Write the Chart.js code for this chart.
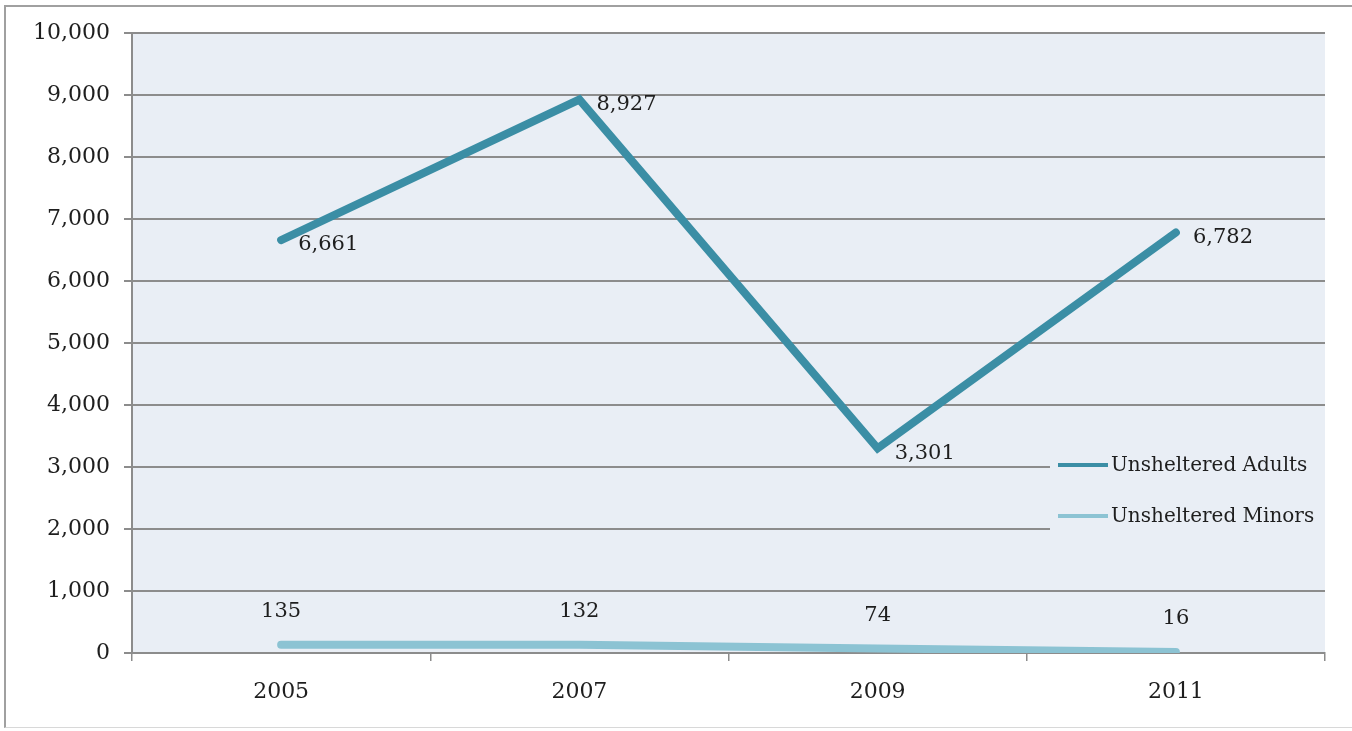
<!DOCTYPE html>
<html>
<head>
<meta charset="utf-8">
<script src="https://cdn.jsdelivr.net/npm/chart.js@4/dist/chart.umd.min.js"></script>
<style>
  html, body { margin: 0; padding: 0; background: #fff; }
  #wrap { position: relative; width: 1352px; height: 731px; }
  #frame { position: absolute; left: 4px; top: 5px; width: 1352px; height: 723px; border-left: 2px solid #a0a0a0; border-top: 2px solid #a0a0a0; border-bottom: 1px solid #d8d8d8; box-sizing: border-box; pointer-events: none; }
</style>
</head>
<body>
<div id="wrap">
  <canvas id="myChart" width="1352" height="731"></canvas>
  <div id="frame"></div>
</div>
<script>
// chart values
const years = ['2005', '2007', '2009', '2011'];
const adults = [6661, 8927, 3301, 6782];
const minors = [135, 132, 74, 16];
const seriesNames = ['Unsheltered Adults', 'Unsheltered Minors'];
const yTicks = [0, 1000, 2000, 3000, 4000, 5000, 6000, 7000, 8000, 9000, 10000];

const serif = '"DejaVu Serif", "Liberation Serif", serif';
const plotBg = '#e9eef5';
const textCol = '#1e1e1e';

// fill the plot area
const plotBackground = {
    id: 'plotBackground',
    beforeDraw(chart) {
        const a = chart.chartArea;
        const c = chart.ctx;
        c.save();
        c.fillStyle = plotBg;
        c.fillRect(a.left, a.top, a.right - a.left, a.bottom - a.top);
        c.restore();
    }
};

// value labels next to each point
const valueLabels = {
    id: 'valueLabels',
    afterDatasetsDraw(chart) {
        const c = chart.ctx;
        c.save();
        c.font = '21px ' + serif;
        c.fillStyle = textCol;
        c.textBaseline = 'middle';
        chart.data.datasets.forEach((ds, i) => {
            const meta = chart.getDatasetMeta(i);
            meta.data.forEach((pt, j) => {
                const txt = ds.data[j].toLocaleString('en-US');
                if (i === 0) {
                    c.textAlign = 'left';
                    c.fillText(txt, pt.x + 17, pt.y + 5);
                } else {
                    c.textAlign = 'center';
                    c.fillText(txt, pt.x, pt.y - 33);
                }
            });
        });
        c.restore();
    }
};

// legend box sitting inside the plot, lower right
const insideLegend = {
    id: 'insideLegend',
    afterDraw(chart) {
        const c = chart.ctx;
        const a = chart.chartArea;
        const y = chart.scales.y;
        const x0 = 1050;
        const top = y.getPixelForValue(3000) - 22;
        c.save();
        c.fillStyle = plotBg;
        c.fillRect(x0, top, a.right - x0, 100);
        c.font = '20px ' + serif;
        c.fillStyle = textCol;
        c.textBaseline = 'middle';
        c.textAlign = 'left';
        chart.data.datasets.forEach((ds, i) => {
            const ly = top + 20 + i * 51;
            c.strokeStyle = ds.borderColor;
            c.lineWidth = 4;
            c.beginPath();
            c.moveTo(x0 + 8, ly);
            c.lineTo(x0 + 58, ly);
            c.stroke();
            c.fillText(ds.label, x0 + 61, ly + 1);
        });
        c.restore();
    }
};

const ctx = document.getElementById('myChart').getContext('2d');
const myChart = new Chart(ctx, {
    type: 'line',
    data: {
        labels: years,
        datasets: [{
            label: seriesNames[0],
            data: adults,
            borderColor: '#3b8ea5',
            borderWidth: 8,
            borderCapStyle: 'round',
            borderJoinStyle: 'miter',
            pointRadius: 0,
            tension: 0
        }, {
            label: seriesNames[1],
            data: minors,
            borderColor: '#8cc3d3',
            borderWidth: 8,
            borderCapStyle: 'round',
            pointRadius: 0,
            tension: 0
        }]
    },
    options: {
        responsive: false,
        animation: false,
        layout: { padding: { left: 0, right: 27, top: 33, bottom: 0 } },
        plugins: {
            legend: { display: false },
            tooltip: { enabled: false }
        },
        scales: {
            x: {
                offset: true,
                grid: {
                    offset: true,
                    drawOnChartArea: false,
                    drawTicks: true,
                    tickLength: 8,
                    color: '#8c8c8c',
                    lineWidth: 1.5
                },
                border: { color: '#8c8c8c', width: 2 },
                ticks: {
                    padding: 18,
                    color: textCol,
                    font: { family: serif, size: 22 }
                },
                afterFit(s) { s.height = 78; }
            },
            y: {
                min: 0,
                max: 10000,
                afterBuildTicks(s) { s.ticks = yTicks.map(v => ({ value: v })); },
                grid: {
                    color: '#8c8c8c',
                    lineWidth: 2,
                    tickLength: 8
                },
                border: { color: '#8c8c8c', width: 2 },
                ticks: {
                    padding: 14,
                    color: textCol,
                    font: { family: serif, size: 22 },
                    callback: v => v.toLocaleString('en-US')
                },
                afterFit(s) { s.width = 132; }
            }
        }
    },
    plugins: [plotBackground, valueLabels, insideLegend]
});
</script>
</body>
</html>
